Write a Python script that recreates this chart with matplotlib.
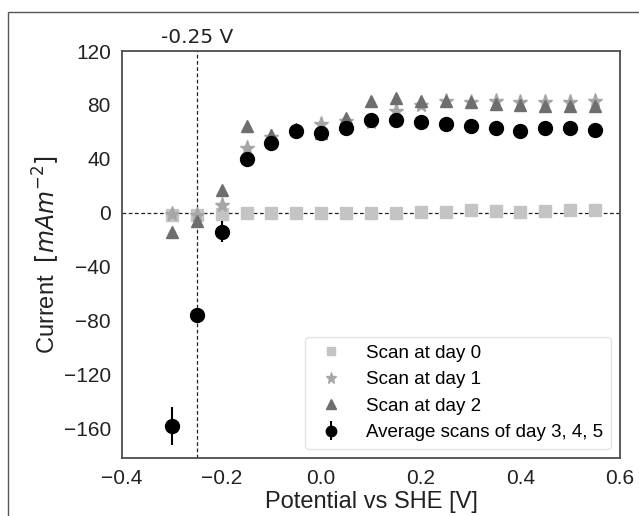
import matplotlib
matplotlib.use("Agg")
import matplotlib.pyplot as plt
from matplotlib.patches import Rectangle

plt.rcParams["font.family"] = ["Liberation Sans", "DejaVu Sans"]

# potential vs SHE [V]
potential = [-0.30, -0.25, -0.20, -0.15, -0.10, -0.05, 0.00, 0.05, 0.10,
             0.15, 0.20, 0.25, 0.30, 0.35, 0.40, 0.45, 0.50, 0.55]

# current [mA m^-2]
day0 = [-1.5, -1.5, -1.0, -0.5, -0.5, -0.5, -0.3, -0.2, 0.0,
        0.0, 0.5, 0.5, 1.7, 1.5, 0.8, 1.5, 1.8, 2.0]
day1 = [-1.0, -2.0, 5.7, 48.0, 56.0, 61.0, 66.0, 68.0, 67.0,
        75.8, 80.0, 83.0, 82.0, 83.0, 82.0, 82.0, 82.0, 83.0]
day2 = [-14.0, -6.0, 16.5, 64.4, 58.0, 62.0, 59.0, 70.0, 83.0,
        85.0, 83.0, 83.0, 82.0, 81.0, 80.0, 79.0, 79.0, 79.0]
avg345 = [-158.0, -76.0, -14.0, 39.8, 52.0, 60.7, 59.0, 62.7, 69.0,
          69.0, 67.0, 66.0, 64.4, 62.5, 61.0, 63.0, 63.0, 61.5]
avg345_err = [14.0, 4.0, 8.0, 5.0, 3.0, 3.0, 3.0, 2.0, 2.0,
              2.0, 2.0, 2.0, 2.0, 2.0, 2.0, 2.0, 2.0, 2.0]

fig = plt.figure(figsize=(6.39, 5.16), dpi=100)
# frame of the original screenshot
fig.patches.append(Rectangle((8 / 639, -0.05), 1.1, (516 - 12) / 516 + 0.05,
                             transform=fig.transFigure, fill=False,
                             edgecolor="#555555", linewidth=1.0))
ax = fig.add_axes([122 / 639, 58 / 516, 498 / 639, 407 / 516])

ax.axhline(0, color="#222222", linestyle=(0, (3, 2)), linewidth=0.9, zorder=1)
ax.axvline(-0.25, color="#222222", linestyle=(0, (3, 2)), linewidth=0.9, zorder=1)

ax.plot(potential, day0, "s", color="#c4c4c4", markersize=8.5,
        linestyle="none", label="Scan at day 0", zorder=2)
ax.plot(potential, day1, "*", color="#a6a6a6", markersize=11,
        linestyle="none", label="Scan at day 1", zorder=3)
ax.plot(potential, day2, "^", color="#6e6e6e", markersize=9,
        linestyle="none", label="Scan at day 2", zorder=3)
ax.errorbar(potential, avg345, yerr=avg345_err, fmt="o", color="black",
            markersize=10, elinewidth=1.5, capsize=0,
            label="Average scans of day 3, 4, 5", zorder=4)

ax.set_xlim(-0.4, 0.6)
ax.set_ylim(-182, 120)
ax.set_xticks([-0.4, -0.2, 0.0, 0.2, 0.4, 0.6])
ax.set_yticks([-160, -120, -80, -40, 0, 40, 80, 120])
ax.tick_params(length=0, labelsize=15, pad=8, colors="#222222")
for s in ax.spines.values():
    s.set_color("#4d4d4d")
    s.set_linewidth(1.3)

ax.set_xlabel("Potential vs SHE [V]", fontsize=17, color="#222222", labelpad=2)
ax.set_ylabel("Current  $[mAm^{-2}]$", fontsize=17, color="#222222", labelpad=1)

ax.text(-0.25, 123, "-0.25 V", ha="center", va="bottom", fontsize=14.5,
        family="DejaVu Sans", color="#222222")

leg = ax.legend(loc="lower right", fontsize=13.5, frameon=True,
                borderpad=0.4, labelspacing=0.5, handletextpad=0.85,
                borderaxespad=0.5, markerscale=0.75)
leg.get_frame().set_edgecolor("#dddddd")

fig.savefig("out.png", dpi=100)
